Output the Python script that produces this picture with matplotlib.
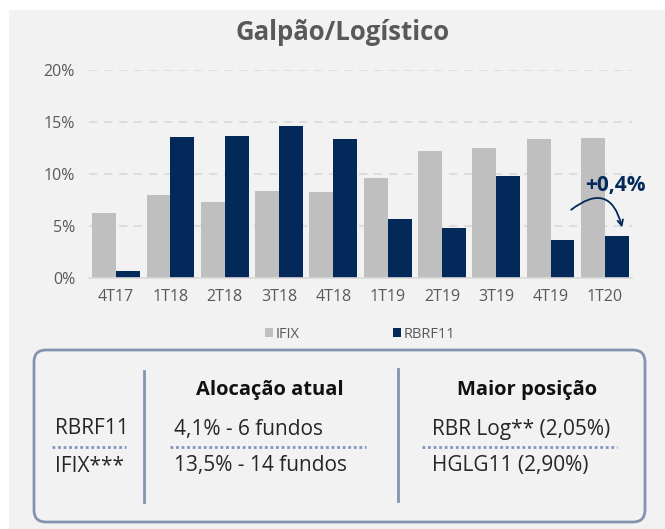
import numpy as np
import matplotlib.pyplot as plt
from matplotlib.patches import FancyBboxPatch, Rectangle

plt.rcParams['font.family'] = ['Open Sans', 'DejaVu Sans']

# data
quarters = ['4T17', '1T18', '2T18', '3T18', '4T18', '1T19', '2T19', '3T19', '4T19', '1T20']
ifix = [6.25, 8.0, 7.3, 8.4, 8.3, 9.6, 12.2, 12.5, 13.4, 13.5]
rbrf11 = [0.7, 13.55, 13.7, 14.65, 13.4, 5.7, 4.8, 9.8, 3.65, 4.0]
series_names = ['IFIX', 'RBRF11']
yticks = [0, 5, 10, 15, 20]
title = 'Galpão/Logístico'
delta_label = '+0,4%'

row_labels = ['RBRF11', 'IFIX***']
alloc_header = 'Alocação atual'
alloc_values = ['4,1% - 6 fundos', '13,5% - 14 fundos']
top_header = 'Maior posição'
top_values = ['RBR Log** (2,05%)', 'HGLG11 (2,90%)']

GRAY = '#bfbfbf'
NAVY = '#03295a'
TXT = '#595959'
FRAME = '#8194b0'

W, H = 665, 529
fig = plt.figure(figsize=(W / 100, H / 100), dpi=100, facecolor='white')

# overlay in pixel coords for background and table box
ov = fig.add_axes([0, 0, 1, 1], zorder=0)
ov.set_xlim(0, W)
ov.set_ylim(H, 0)
ov.axis('off')
ov.add_patch(Rectangle((9, 10), W - 9, H - 10, facecolor='#f2f2f2', edgecolor='none'))

# bar chart
ax = fig.add_axes([89 / W, 1 - 278 / H, 543 / W, 208 / H], zorder=1)
ax.patch.set_alpha(0)
x = np.arange(len(quarters))
bw = 0.44
ax.bar(x - bw / 2, ifix, bw, color=GRAY, label=series_names[0], zorder=2)
ax.bar(x + bw / 2, rbrf11, bw, color=NAVY, label=series_names[1], zorder=2)
ax.set_xlim(-0.5, len(quarters) - 0.5)
ax.set_ylim(0, 20)
ax.set_yticks(yticks)
ax.set_yticklabels([f'{v}%' for v in yticks])
ax.set_xticks(x)
ax.set_xticklabels(quarters)
ax.tick_params(length=0, labelsize=11.5, colors=TXT)
ax.tick_params(axis='x', pad=8)
ax.tick_params(axis='y', pad=10)
for yv in yticks[1:]:
    ax.axhline(yv, color='#d9d9d9', lw=1.2, ls=(0, (5, 4)), zorder=1)
for s in ['top', 'right', 'left']:
    ax.spines[s].set_visible(False)
ax.spines['bottom'].set_color('#d9d9d9')
ax.spines['bottom'].set_linewidth(1.2)

fig.text(343 / W, 1 - 32 / H, title, ha='center', va='center',
         fontsize=18.5, fontweight='bold', color=TXT)

# change annotation on the last quarter
last = len(quarters) - 1
ax.text(last + 0.2, 8.85, delta_label, ha='center', va='center',
        fontsize=15, fontweight='bold', color=NAVY)
ax.annotate('', xy=(last + 0.33, 4.6), xytext=(last - 0.66, 6.4),
            arrowprops=dict(arrowstyle='->', color=NAVY, lw=1.3,
                            connectionstyle='arc3,rad=-0.8'))

leg = ax.legend(ncol=2, loc='center', bbox_to_anchor=(360 / W, 1 - 334 / H),
                bbox_transform=fig.transFigure, frameon=False, fontsize=10.5,
                handlelength=0.55, handleheight=0.55, handletextpad=0.2,
                columnspacing=6.4)
for t in leg.get_texts():
    t.set_color(TXT)

# info box
ov2 = fig.add_axes([0, 0, 1, 1], zorder=2)
ov2.set_xlim(0, W)
ov2.set_ylim(H, 0)
ov2.axis('off')
ov2.add_patch(FancyBboxPatch((34, 350), 611, 172, boxstyle='round,pad=0,rounding_size=12',
                             facecolor='none', edgecolor=FRAME, lw=2))
ov2.plot([143.5, 143.5], [371, 502], color=FRAME, lw=2)
ov2.plot([397.5, 397.5], [369, 501], color=FRAME, lw=2)

ov2.text(270, 390, alloc_header, ha='center', va='center', fontsize=14.5,
         fontweight='bold', color='#111111')
ov2.text(527, 390, top_header, ha='center', va='center', fontsize=14.5,
         fontweight='bold', color='#111111')
row_y = [429, 466]
for i in range(2):
    ov2.text(55, row_y[i], row_labels[i], ha='left', va='center', fontsize=15, color='#262626')
    ov2.text(174, row_y[i], alloc_values[i], ha='left', va='center', fontsize=15, color='#262626')
    ov2.text(432, row_y[i], top_values[i], ha='left', va='center', fontsize=15, color='#262626')
for x0, x1 in [(52, 126), (170, 366), (422, 617)]:
    ov2.plot([x0, x1], [447, 447], color='#7f96c0', lw=2, ls=(0, (1, 1)))

fig.savefig('out.png', dpi=100)
